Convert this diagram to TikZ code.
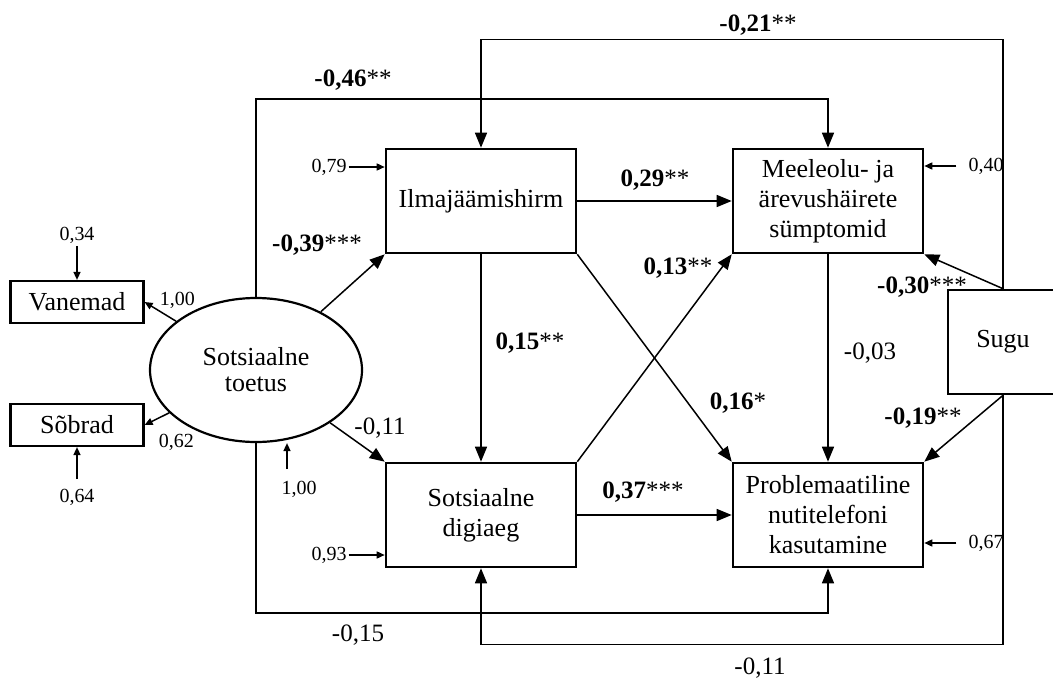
\documentclass[tikz,border=0pt]{standalone}
\usepackage{fontspec}
\setmainfont{Liberation Serif}
\usetikzlibrary{positioning,shapes.geometric,arrows.meta}

\begin{document}
\begin{tikzpicture}[x=1pt,y=-1pt,
    box/.style={draw,line width=2.6pt,minimum width=190pt,minimum height=104pt,align=center,inner sep=0pt,font=\fontsize{26}{30}\selectfont},
    indicator/.style={draw,line width=2.2pt,minimum width=133pt,minimum height=42pt,inner sep=0pt,font=\fontsize{26}{30}\selectfont},
    latent/.style={ellipse,draw,line width=2.2pt,minimum width=212pt,minimum height=144pt,align=center,inner sep=0pt,font=\fontsize{26}{26}\selectfont},
    coef/.style={font=\fontsize{25}{30}\selectfont,inner sep=1pt},
    err/.style={font=\fontsize{20}{24}\selectfont,inner sep=2pt},
    conn/.style={-{Triangle[length=15pt,width=12pt]},line width=1.5pt},
    errarrow/.style={-{Triangle[length=8pt,width=7pt]},line width=1.5pt}
    ]
    \useasboundingbox (0,0) rectangle (1053,680);

   \node(ilma) [box] at (481,201) {Ilmajäämishirm};
   \node(meel) [box] at (828,201) {Meeleolu- ja\\ärevushäirete\\sümptomid};
   \node(digi) [box] at (481,515) {Sotsiaalne\\digiaeg};
   \node(prob) [box] at (828,515) {Problemaatiline\\nutitelefoni\\kasutamine};
   \node(sugu) [box,minimum width=110pt] at (1003,342) {Sugu};

   \node(toetus) [latent] at (256,370) {Sotsiaalne\\toetus};
   \node(vanemad) [indicator] at (77,302) {Vanemad};
   \node(sobrad) [indicator] at (77,425) {Sõbrad};

   % residuals
   \node(e79) [err,left=36pt of ilma.west,yshift=34pt] {0,79};
   \node(e93) [err,left=36pt of digi.west,yshift=-40pt] {0,93};
   \node(e40) [err,right=42pt of meel.east,yshift=35pt] {0,40};
   \node(e67) [err,right=42pt of prob.east,yshift=-28pt] {0,67};
   \node(e34) [err,above=34pt of vanemad] {0,34};
   \node(e64) [err,below=40pt of sobrad] {0,64};
   \node(e100) [err,below=36pt of toetus.south,xshift=43pt] {1,00};

   \foreach \e/\b in {e79/ilma,e93/digi} {
     \draw[errarrow] (\e) -- (\e -| \b.west);
   }
   \foreach \e/\b in {e40/meel,e67/prob} {
     \draw[errarrow] ([xshift=-10pt]\e.west) -- (\e -| \b.east);
   }
   \draw[errarrow] (e34) -- (vanemad);
   \draw[errarrow] ([yshift=8pt]e64.north) -- (sobrad);
   \draw[errarrow] ([xshift=-12pt,yshift=10pt]e100.north) -- ([xshift=31pt]toetus.south);

   % loadings
   \draw[errarrow] (toetus) -- (vanemad.east);
   \draw[errarrow] (toetus) -- (sobrad.east);
   \node(l100) [err,right=13pt of vanemad.east,yshift=2pt] {1,00};
   \node(l62) [err,right=12pt of sobrad.south east,yshift=5pt] {0,62};

   % paths
   \draw[conn] (toetus) -- (ilma.south west);
   \draw[conn] (toetus) -- (digi.north west);
   \draw[conn] (ilma) -- (meel);
   \draw[conn] (ilma) -- (digi);
   \draw[conn] (ilma.south east) -- (prob.north west);
   \draw[conn] (digi.north east) -- (meel.south west);
   \draw[conn] (digi) -- (prob);
   \draw[conn] (meel) -- (prob);
   \draw[conn] (sugu.north) -- (meel.south east);
   \draw[conn] (sugu.south) -- (prob.north east);
   \draw[conn] (sugu.north) -- ++(0,-249) -| (ilma.north);
   \draw[conn] (toetus.north) -- ++(0,-198) -| (meel.north);
   \draw[conn] (toetus.south) -- ++(0,170) -| (prob.south);
   \draw[conn] (sugu.south) -- ++(0,249) -| (digi.south);

   \node(c21) [coef] at (758,25) {\textbf{-0,21}**};
   \node(c46) [coef] at (353,80) {\textbf{-0,46}**};
   \node(c29) [coef] at (655,180) {\textbf{0,29}**};
   \node(c39) [coef] at (317,245) {\textbf{-0,39}***};
   \node(c13) [coef] at (678,268) {\textbf{0,13}**};
   \node(c15) [coef] at (530,343) {\textbf{0,15}**};
   \node(c16) [coef] at (738,403) {\textbf{0,16}*};
   \node(c30) [coef] at (922,287) {\textbf{-0,30}***};
   \node(c19) [coef] at (923,418) {\textbf{-0,19}**};
   \node(c03) [coef] at (870,353) {-0,03};
   \node(c11a) [coef] at (380,428) {-0,11};
   \node(c37) [coef] at (643,492) {\textbf{0,37}***};
   \node(c15b) [coef] at (358,635) {-0,15};
   \node(c11b) [coef] at (760,668) {-0,11};

  \end{tikzpicture}
\end{document}
